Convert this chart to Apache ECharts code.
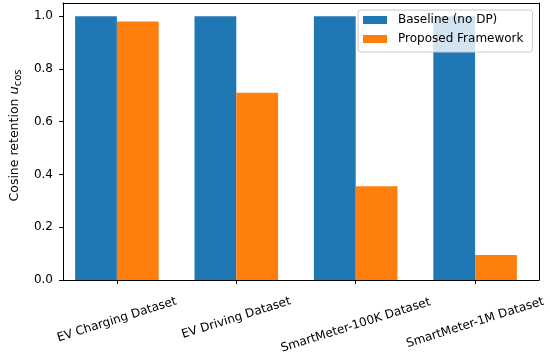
<!DOCTYPE html>
<html>
<head>
<meta charset="utf-8">
<script src="https://cdn.jsdelivr.net/npm/echarts@6/dist/echarts.min.js"></script>
<style>html,body{margin:0;padding:0;background:#fff;}#c{width:550px;height:357px;}</style>
</head>
<body>
<div id="c"></div>
<script>
const categories = ['EV Charging Dataset', 'EV Driving Dataset', 'SmartMeter-100K Dataset', 'SmartMeter-1M Dataset'];
const baselineValues = [1.0, 1.0, 1.0, 1.0];
const proposedValues = [0.98, 0.71, 0.355, 0.095];
const yTicks = [0, 0.2, 0.4, 0.6, 0.8, 1.0];
const seriesNames = ['Baseline (no DP)', 'Proposed Framework'];

(function () {
const FONT = 'DejaVu Sans';
// per-label offsets (px) to mimic matplotlib's top-aligned rotated labels
const labelShift = [1.7, 0, 7, 4.6];
const rich = {};
labelShift.forEach((d, i) => {
  rich['l' + i] = { fontFamily: FONT, fontSize: 12, color: '#000', padding: [2 * d, 0.63 * d, 0, 0] };
});

const chart = echarts.init(document.getElementById('c'), null, { renderer: 'canvas' });
const Y_MAX = 1.05;
const gTop = 3, gBottom = 77;
const lineCommon = { show: true, onZero: false, lineStyle: { color: '#000', width: 1 } };
chart.setOption({
  animation: false,
  backgroundColor: '#fff',
  grid: [
    { left: 53, right: 11, top: gTop, bottom: gBottom },
    { left: 57.2, right: 15.2, top: gTop, bottom: gBottom }
  ],
  legend: {
    orient: 'vertical',
    left: 358, top: 10,
    padding: [3, 9, 6, 5],
    itemGap: 5,
    itemWidth: 24, itemHeight: 8,
    icon: 'rect',
    backgroundColor: 'rgba(255,255,255,0.8)',
    borderColor: '#cccccc', borderWidth: 1, borderRadius: 3,
    textStyle: { fontFamily: FONT, fontSize: 12, color: '#000', lineHeight: 14, padding: [0, 0, 0, 6] },
    data: seriesNames
  },
  xAxis: [
    { gridIndex: 0, type: 'value', min: 0, max: 1, position: 'bottom',
      axisLine: lineCommon, axisTick: { show: false }, axisLabel: { show: false }, splitLine: { show: false } },
    { gridIndex: 0, type: 'value', min: 0, max: 1, position: 'top',
      axisLine: lineCommon, axisTick: { show: false }, axisLabel: { show: false }, splitLine: { show: false } },
    { gridIndex: 1, type: 'category', data: categories, position: 'bottom',
      axisLine: { show: false },
      axisTick: { show: true, alignWithLabel: true, length: 4, inside: false, lineStyle: { color: '#000', width: 1 } },
      axisLabel: {
        show: true, interval: 0, rotate: 17.5, margin: 38, hideOverlap: false,
        align: 'center', verticalAlign: 'middle',
        fontFamily: FONT, fontSize: 12, color: '#000',
        formatter: (v, i) => '{l' + i + '|' + v + '}',
        rich: rich
      },
      splitLine: { show: false } }
  ],
  yAxis: [
    { gridIndex: 0, type: 'value', min: 0, max: Y_MAX, position: 'left',
      axisLine: lineCommon,
      axisTick: { show: true, length: 4, customValues: yTicks, lineStyle: { color: '#000', width: 1 } },
      axisLabel: { show: true, customValues: yTicks, margin: 10, fontFamily: FONT, fontSize: 12, color: '#000',
        formatter: v => v.toFixed(1) },
      splitLine: { show: false },
      name: '{n|Cosine retention }{u|u}{s|cos}',
      nameLocation: 'middle', nameRotate: 90, nameGap: 40,
      nameTextStyle: {
        fontFamily: FONT, fontSize: 12.5, color: '#000', padding: [0, 0, 0, 12],
        rich: {
          n: { fontFamily: FONT, fontSize: 12.5, color: '#000' },
          u: { fontFamily: FONT, fontSize: 13, fontStyle: 'italic', color: '#000' },
          s: { fontFamily: FONT, fontSize: 10, color: '#000', padding: [7, 0, 0, 0] }
        }
      } },
    { gridIndex: 0, type: 'value', min: 0, max: Y_MAX, position: 'right',
      axisLine: lineCommon, axisTick: { show: false }, axisLabel: { show: false }, splitLine: { show: false } },
    { gridIndex: 1, type: 'value', min: 0, max: Y_MAX, show: false }
  ],
  series: [
    { name: seriesNames[0], type: 'bar', xAxisIndex: 2, yAxisIndex: 2, data: baselineValues,
      barWidth: '35%', barGap: '0%', itemStyle: { color: '#1f77b4' } },
    { name: seriesNames[1], type: 'bar', xAxisIndex: 2, yAxisIndex: 2, data: proposedValues,
      barWidth: '35%', barGap: '0%', itemStyle: { color: '#ff7f0e' } }
  ]
});
})();
</script>
</body>
</html>
